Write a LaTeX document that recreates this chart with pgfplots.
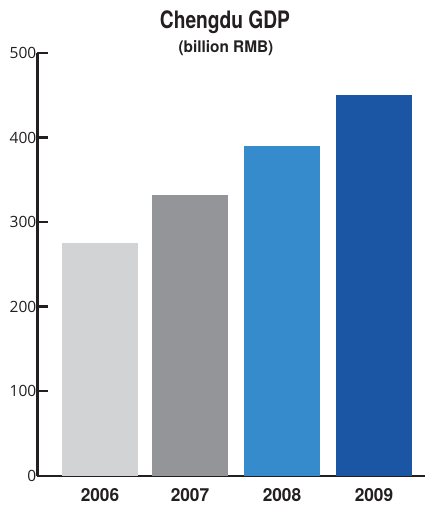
\documentclass[border=0pt]{standalone}
\usepackage{fontspec}
\usepackage{pgfplots}
\pgfplotsset{compat=1.18}
\setmainfont{Open Sans}
\newfontfamily\cond[FakeStretch=0.8]{TeX Gyre Heros}
\newfontfamily\condb[FakeStretch=0.96]{TeX Gyre Heros}
\definecolor{axc}{HTML}{231F20}
\definecolor{c1}{HTML}{D1D3D4}
\definecolor{c2}{HTML}{939598}
\definecolor{c3}{HTML}{358BCB}
\definecolor{c4}{HTML}{1B56A5}
\begin{document}
\begin{tikzpicture}
\begin{axis}[
  scale only axis, width=387.5pt, height=422.7pt,
  xmin=37.5, xmax=425, ymin=0, ymax=500,
  axis x line=bottom, axis y line=left,
  axis line style={-, line width=2.2pt, color=axc},
  ytick={0,100,200,300,400,500},
  y tick style={line width=2.2pt, color=axc},
  tick align=inside, major tick length=11pt,
  xtick={100,190,282,374},
  xticklabels={2006,2007,2008,2009},
  x tick style={draw=none},
  /pgf/number format/assume math mode=true,
  yticklabel style={font=\fontsize{15.5}{15.5}\selectfont, color=axc, inner sep=1pt},
  xticklabel style={font=\condb\bfseries\fontsize{18}{18}\selectfont, color=axc, yshift=-9pt},
  clip=false,
]
\addplot[ybar, bar width=76, bar shift=0pt, fill=c1, draw=none] coordinates {(100,275)};
\addplot[ybar, bar width=76, bar shift=0pt, fill=c2, draw=none] coordinates {(190,332)};
\addplot[ybar, bar width=76, bar shift=0pt, fill=c3, draw=none] coordinates {(282,390)};
\addplot[ybar, bar width=76, bar shift=0pt, fill=c4, draw=none] coordinates {(374,450)};
\node[font=\cond\bfseries\fontsize{24}{24}\selectfont, color=axc] at (axis cs:225,536.7) {Chengdu GDP};
\node[font=\condb\bfseries\fontsize{16}{16}\selectfont, color=axc] at (axis cs:226,505.9) {(billion RMB)};
\coordinate (bl) at (axis cs:0,-34.7);
\coordinate (tr) at (axis cs:425,562.7);
\end{axis}
\pgfresetboundingbox
\path[use as bounding box] (bl) rectangle (tr);
\end{tikzpicture}
\end{document}
